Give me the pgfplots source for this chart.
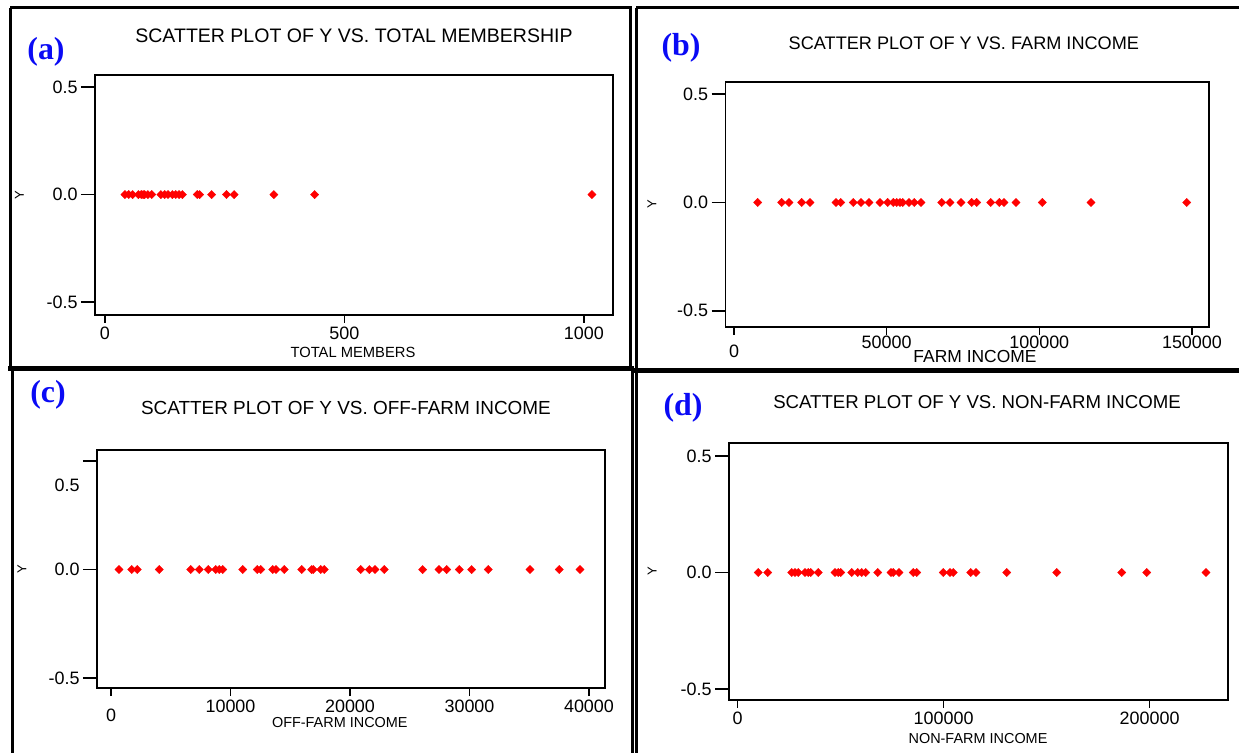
\documentclass[border=0pt]{standalone}
\usepackage{pgfplots}
\pgfplotsset{compat=1.18}
\usepackage{fontspec}
\setmainfont{Liberation Sans}
\newfontfamily\panelfont{Liberation Serif}
\definecolor{panelblue}{RGB}{10,10,245}
\definecolor{ptred}{RGB}{255,0,0}
\newcommand{\low}[2]{\raisebox{-#1bp}[\height][\depth]{#2}}

\pgfplotsset{
  scat/.style={
    scale only axis,
    axis line style={line width=1.6bp},
    tick align=outside,
    xtick pos=bottom, ytick pos=left,
    major tick length=14bp,
    every tick/.style={line width=1.6bp, black},
    xtick style={/pgfplots/major tick length=8bp},
    scaled x ticks=false,
    ytick={-0.5,0,0.5},
    tick label style={font=\fontsize{18}{20}\selectfont},
    xticklabel style={yshift=6bp},
    title style={anchor=center},
    xlabel style={anchor=center},
    ylabel style={anchor=center, font=\fontsize{13}{14}\selectfont},
    ylabel={Y},
  },
  pts/.style={only marks, mark=square*, mark size=2.9bp,
    mark options={rotate=45, draw=ptred, fill=ptred}},
}

\pgfplotstableread{
x y
42 0
50 0
58 0
70 0
76 0
80 0
83 0
90 0
98 0
117 0
125 0
132 0
141 0
148 0
155 0
162 0
193 0
198 0
223 0
254 0
270 0
353 0
438 0
1017 0
}\membership

\pgfplotstableread{
x y
7760 0
15620 0
18010 0
22170 0
24890 0
33410 0
34950 0
39070 0
41600 0
44220 0
47820 0
50340 0
52180 0
53290 0
54370 0
55260 0
57320 0
59050 0
61250 0
68030 0
70750 0
74350 0
77850 0
79490 0
84080 0
86900 0
88440 0
92370 0
100980 0
116930 0
148280 0
}\farm

\pgfplotstableread{
x y
670 0
1730 0
2200 0
4040 0
6670 0
7390 0
8140 0
8760 0
9060 0
9350 0
11020 0
12240 0
12530 0
13530 0
13810 0
14500 0
15960 0
16790 0
16930 0
17550 0
17850 0
20900 0
21620 0
22090 0
22870 0
26080 0
27450 0
28090 0
29150 0
30180 0
31570 0
35060 0
37510 0
39250 0
}\offfarm

\pgfplotstableread{
x y
10050 0
14610 0
26260 0
27860 0
29470 0
32720 0
34320 0
35490 0
39170 0
47280 0
48880 0
50050 0
55390 0
58300 0
60240 0
62180 0
68010 0
74470 0
75580 0
78350 0
85290 0
86940 0
99850 0
103110 0
104710 0
113150 0
115730 0
130630 0
154900 0
186460 0
198590 0
227380 0
}\nonfarm

\begin{document}
\begin{tikzpicture}
\path[use as bounding box] (0bp,0bp) rectangle (1239bp,753bp);

% panel frames
\draw[line width=3bp] (10bp,745bp) -- (632bp,745bp);
\draw[line width=3bp] (10bp,745bp) -- (10bp,385bp);
\draw[line width=3bp] (630bp,745bp) -- (630bp,385bp);
\draw[line width=5bp] (8bp,384bp) -- (634bp,384bp);
\draw[line width=3bp] (12bp,384bp) -- (12bp,0bp);
\draw[line width=3bp] (632bp,384bp) -- (632bp,0bp);
\draw[line width=3bp] (636bp,745bp) -- (1239bp,745bp);
\draw[line width=3bp] (636bp,745bp) -- (636bp,0bp);
\draw[line width=5bp] (634bp,382bp) -- (1239bp,382bp);

% panel letters
\node[font=\panelfont\bfseries\fontsize{32}{34}\selectfont, text=panelblue] at (46bp,701bp) {(a)};
\node[font=\panelfont\bfseries\fontsize{32}{34}\selectfont, text=panelblue] at (681bp,705bp) {(b)};
\node[font=\panelfont\bfseries\fontsize{32}{34}\selectfont, text=panelblue] at (48bp,358bp) {(c)};
\node[font=\panelfont\bfseries\fontsize{32}{34}\selectfont, text=panelblue] at (683bp,345bp) {(d)};

% (a)
\begin{axis}[scat, at={(95bp,438bp)}, anchor=south west, width=518bp, height=240bp,
  xmin=-20.5, xmax=1061, ymin=-0.56, ymax=0.556,
  xtick={0,500,1000}, xticklabels={0,500,1000},
  yticklabels={-0.5,0.0,0.5},
  title={SCATTER PLOT OF Y VS. TOTAL MEMBERSHIP},
  title style={at={(axis description cs:0.5,1.1375)}, font=\fontsize{19.6}{21}\selectfont},
  xlabel={TOTAL MEMBERS},
  xlabel style={at={(axis description cs:0.498,-0.154)}, font=\fontsize{14.8}{16}\selectfont},
  ylabel style={at={(axis description cs:-0.146,0.5)}},
]
\addplot[pts] table[x=x,y=y] {\membership};
\end{axis}

% (b)
\begin{axis}[scat, at={(725.5bp,426bp)}, anchor=south west, width=483.5bp, height=245bp,
  xmin=-2784, xmax=155585, ymin=-0.575, ymax=0.556,
  xtick={0,50000,100000,150000}, xticklabels={\low{9}{0},50000,100000,150000},
  xticklabel style={yshift=3bp},
  yticklabels={-0.5,0.0,0.5},
  title={SCATTER PLOT OF Y VS. FARM INCOME},
  title style={at={(axis description cs:0.493,1.135)}, font=\fontsize{18.2}{20}\selectfont},
  xlabel={FARM INCOME},
  xlabel style={at={(axis description cs:0.516,-0.122)}, font=\fontsize{17.5}{19}\selectfont},
  ylabel style={at={(axis description cs:-0.152,0.5)}},
]
\addplot[pts] table[x=x,y=y] {\farm};
\end{axis}

% (c)
\begin{axis}[scat, at={(97bp,65bp)}, anchor=south west, width=508bp, height=238bp,
  xmin=-1172, xmax=41340, ymin=-0.546, ymax=0.551,
  xtick={0,10000,20000,30000,40000}, xticklabels={\low{9}{0},10000,20000,30000,40000},
  yticklabels={-0.5,0.0,\low{24}{0.5}},
  title={SCATTER PLOT OF Y VS. OFF-FARM INCOME},
  title style={at={(axis description cs:0.49,1.151)}, font=\fontsize{19}{21}\selectfont},
  xlabel={OFF-FARM INCOME},
  xlabel style={at={(axis description cs:0.478,-0.147)}, font=\fontsize{14.5}{15}\selectfont},
  ylabel style={at={(axis description cs:-0.148,0.5)}},
]
\addplot[pts] table[x=x,y=y] {\offfarm};
\end{axis}

% (d)
\begin{axis}[scat, at={(729bp,53bp)}, anchor=south west, width=499bp, height=257bp,
  xmin=-4170, xmax=238060, ymin=-0.547, ymax=0.556,
  xtick={0,100000,200000}, xticklabels={0,100000,200000},
  yticklabels={-0.5,0.0,0.5},
  title={SCATTER PLOT OF Y VS. NON-FARM INCOME},
  title style={at={(axis description cs:0.497,1.136)}, font=\fontsize{18.7}{20}\selectfont},
  xlabel={NON-FARM INCOME},
  xlabel style={at={(axis description cs:0.499,-0.148)}, font=\fontsize{14.5}{15}\selectfont},
  ylabel style={at={(axis description cs:-0.154,0.5)}},
]
\addplot[pts] table[x=x,y=y] {\nonfarm};
\end{axis}
\end{tikzpicture}
\end{document}
